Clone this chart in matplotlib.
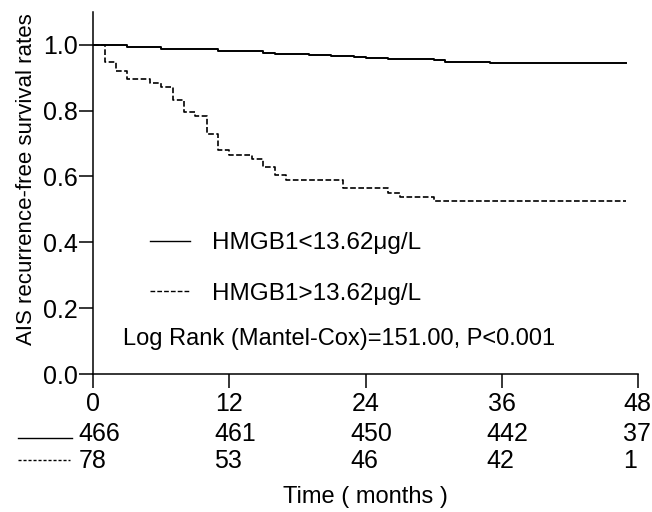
import matplotlib
matplotlib.use("Agg")
import matplotlib.pyplot as plt
from matplotlib.lines import Line2D
from matplotlib.transforms import ScaledTranslation, blended_transform_factory

plt.rcParams["font.family"] = ["Liberation Sans", "DejaVu Sans"]

# Kaplan-Meier steps (months, survival)
low_t = [0, 3, 5, 6, 11, 13, 15, 16, 19, 21, 23, 24, 26, 30, 31, 33, 35, 47]
low_s = [1.0, 0.994, 0.992, 0.987, 0.982, 0.980, 0.976, 0.971, 0.969, 0.965,
         0.962, 0.959, 0.956, 0.953, 0.949, 0.946, 0.943, 0.943]
high_t = [0, 1, 2, 3, 5, 6, 7, 8, 9, 10, 11, 12, 14, 15, 16, 17, 22, 26, 27, 30, 47]
high_s = [1.0, 0.946, 0.921, 0.896, 0.884, 0.871, 0.832, 0.795, 0.782, 0.729,
          0.681, 0.666, 0.654, 0.628, 0.603, 0.588, 0.564, 0.551, 0.537, 0.524, 0.524]

labels = ["HMGB1<13.62μg/L", "HMGB1>13.62μg/L"]
risk_times = [0, 12, 24, 36, 48]
risk_low = [466, 461, 450, 442, 37]
risk_high = [78, 53, 46, 42, 1]
stat_text = "Log Rank (Mantel-Cox)=151.00, P<0.001"

FS = 17
NUM_FS = 18
fig = plt.figure(figsize=(6.52, 5.12), dpi=100)
ax = fig.add_axes([0.1431, 0.2695, 0.835, 0.7075])

ax.step(low_t, low_s, where="post", color="black", lw=1.4, label=labels[0])
ax.step(high_t, high_s, where="post", color="black", lw=1.2,
        linestyle=(0, (3.4, 1.5)), label=labels[1])

ax.set_xlim(0, 48)
ax.set_ylim(0, 1.1)
ax.set_xticks(risk_times)
ax.set_yticks([0, 0.2, 0.4, 0.6, 0.8, 1.0])
ax.set_yticklabels([f"{v:.1f}" for v in [0, 0.2, 0.4, 0.6, 0.8, 1.0]])
ax.spines["top"].set_visible(False)
ax.spines["right"].set_visible(False)
for s in ["left", "bottom"]:
    ax.spines[s].set_linewidth(1.1)
ax.tick_params(axis="both", direction="out", length=10, width=1.1,
               labelsize=NUM_FS, colors="black")
ax.tick_params(axis="y", pad=1)
ax.tick_params(axis="x", pad=3)

ax.set_ylabel("AIS recurrence-free survival rates", fontsize=16)
ax.yaxis.set_label_coords(-0.103, 0.538)

leg = ax.legend(loc="upper left", bbox_to_anchor=(0.105, 0.392), frameon=False,
                fontsize=17.5, handlelength=1.62, handletextpad=0.9,
                labelspacing=1.18, borderpad=0, borderaxespad=0)
for h in leg.get_lines():
    h.set_linewidth(1.0)

ax.text(0.0546, 0.080, stat_text, transform=ax.transAxes, fontsize=FS,
        ha="left", va="baseline")

# number at risk table
tr = blended_transform_factory(ax.transData, ax.transAxes)
shift = ScaledTranslation(-15 / 100, 0, fig.dpi_scale_trans)
for row_y, vals in [(-0.1656, risk_low), (-0.240, risk_high)]:
    for t, n in zip(risk_times, vals):
        ax.text(t, row_y, str(n), transform=tr + shift, fontsize=NUM_FS,
                ha="left", va="center", clip_on=False)

fig.add_artist(Line2D([0.028, 0.111], [0.1445, 0.1445], color="black", lw=1.0))
fig.add_artist(Line2D([0.028, 0.107], [0.1016, 0.1016], color="black", lw=1.0,
                      linestyle=(0, (2.2, 1.4))))

ax.text(0.5, -0.3395, "Time ( months )", transform=ax.transAxes, fontsize=FS,
        ha="center", va="center")

fig.savefig("out.png", dpi=100)
